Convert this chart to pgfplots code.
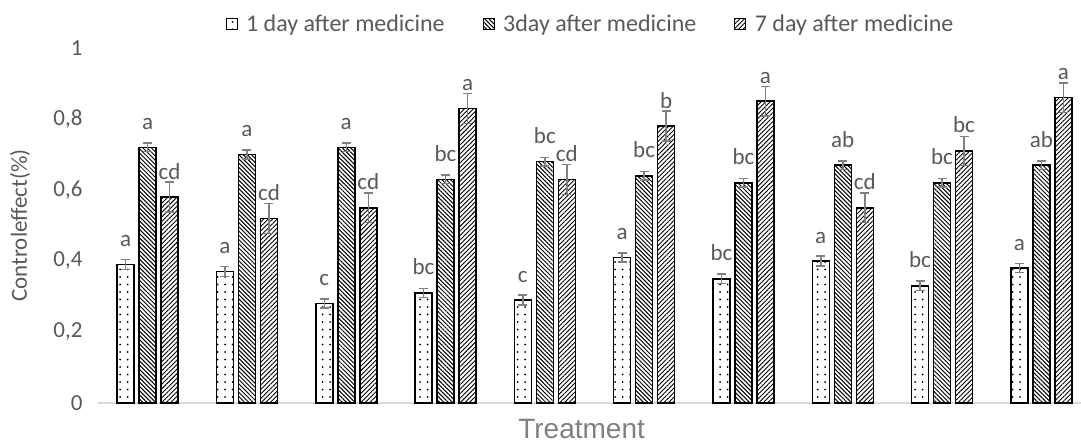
\documentclass[border=0pt]{standalone}
\usepackage{fontspec}
\setmainfont{Carlito}
\newfontfamily\arialfont{Liberation Sans}
\usepackage{pgfplots}
\pgfplotsset{compat=1.18}
\usepackage{pgfplotstable}
\usetikzlibrary{patterns.meta}
\definecolor{txt}{HTML}{595959}
\definecolor{ttl}{HTML}{7F7F7F}
\definecolor{errc}{HTML}{808080}
\definecolor{axc}{HTML}{D9D9D9}

\pgfplotstableread{
x y err lab
0 0.39 0.014 a
1 0.37 0.014 a
2 0.28 0.013 c
3 0.31 0.013 bc
4 0.29 0.014 c
5 0.41 0.013 a
6 0.35 0.013 bc
7 0.40 0.014 a
8 0.33 0.013 bc
9 0.38 0.013 a
}\dayone

\pgfplotstableread{
x y err lab
0 0.72 0.012 a
1 0.70 0.012 a
2 0.72 0.012 a
3 0.63 0.012 bc
4 0.68 0.012 bc
5 0.64 0.012 bc
6 0.62 0.012 bc
7 0.67 0.012 ab
8 0.62 0.012 bc
9 0.67 0.012 ab
}\daythree

\pgfplotstableread{
x y err lab
0 0.58 0.042 cd
1 0.52 0.042 cd
2 0.55 0.041 cd
3 0.83 0.042 a
4 0.63 0.042 cd
5 0.78 0.042 b
6 0.85 0.041 a
7 0.55 0.041 cd
8 0.71 0.041 bc
9 0.86 0.042 a
}\dayseven

\pgfplotsset{
  legimg/.style={legend image code/.code={\draw[##1, line width=1pt] (0pt,-5.5pt) rectangle (11pt,5.5pt); \path[draw=none] (18pt,0pt);}},
  myerr/.style={error bars/.cd, y dir=both, y explicit,
     error bar style={errc, line width=1.5pt},
     error mark options={rotate=90, errc, mark size=4.5pt, line width=1.5pt}},
}

\begin{document}
\begin{tikzpicture}
\useasboundingbox (-98pt,-39pt) rectangle (983pt,403pt);
\begin{axis}[
  scale only axis, width=993pt, height=355pt,
  at={(0pt,0pt)}, anchor=south west,
  xmin=-0.5, xmax=9.5, ymin=0, ymax=1,
  ybar=5pt, bar width=17pt,
  axis lines*=left,
  x axis line style={draw=axc, line width=1.5pt},
  y axis line style={draw=none},
  xtick=\empty,
  ytick={0,0.2,0.4,0.6,0.8,1},
  yticklabels={0,{0,2},{0,4},{0,6},{0,8},1},
  ytick style={draw=none},
  yticklabel style={font=\fontsize{23}{27}\selectfont, text=txt, xshift=-12pt},
  ylabel={Controleffect(\%)},
  ylabel style={font=\fontsize{23}{27}\selectfont, text=txt, at={(axis description cs:-0.0785,0.5)}, anchor=center},
  xlabel={Treatment},
  xlabel style={font=\arialfont\fontsize{28}{32}\selectfont, text=ttl, at={(axis description cs:0.487,0)}, anchor=base, yshift=-35pt},
  nodes near coords,
  point meta=explicit symbolic,
  every node near coord/.append style={anchor=base, yshift=18pt, font=\fontsize{23}{27}\selectfont, text=txt},
  legend style={at={(0.5,1)}, anchor=center, xshift=-4pt, yshift=24pt, draw=none, fill=none,
     legend columns=3, font=\fontsize{24}{28}\selectfont, text=txt,
     /tikz/every even column/.append style={column sep=36pt}},
  legend cell align=left,
  clip=false,
]
\addplot[draw=black, line width=1.5pt, pattern={Dots[distance=7.5pt, radius=1pt]}, pattern color=black, legimg, myerr]
  table[x=x, y=y, y error=err, meta=lab] {\dayone};
\addplot[draw=black, line width=1.5pt, pattern={Lines[angle=-45, distance=3pt, line width=1pt]}, pattern color=black, legimg, myerr]
  table[x=x, y=y, y error=err, meta=lab] {\daythree};
\addplot[draw=black, line width=1.5pt, pattern={Lines[angle=45, distance=3.2pt, line width=0.9pt]}, pattern color=black, legimg, myerr]
  table[x=x, y=y, y error=err, meta=lab] {\dayseven};
\legend{1 day after medicine, 3day after medicine, 7 day after medicine}
\end{axis}
\end{tikzpicture}
\end{document}
